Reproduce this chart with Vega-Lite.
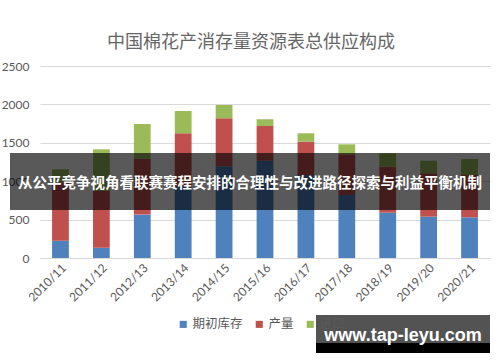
{
  "$schema": "https://vega.github.io/schema/vega-lite/v6.json",
  "width": 450,
  "height": 192,
  "autosize": {"type": "none"},
  "padding": {"left": 40, "top": 66, "right": 10, "bottom": 104},
  "background": "white",
  "title": {
    "text": "中国棉花产消存量资源表总供应构成",
    "font": "Noto Sans CJK SC",
    "fontSize": 18,
    "fontWeight": "normal",
    "color": "#666666",
    "anchor": "middle",
    "frame": "group",
    "offset": 8,
    "dx": -14
  },
  "config": {
    "view": {"stroke": null},
    "font": "Lato"
  },
  "layer": [
    {
      "data": {
        "values": [
          {"year": "2010/11", "type": "期初库存", "value": 225},
          {"year": "2010/11", "type": "产量", "value": 755},
          {"year": "2010/11", "type": "进口", "value": 175},
          {"year": "2011/12", "type": "期初库存", "value": 134},
          {"year": "2011/12", "type": "产量", "value": 740},
          {"year": "2011/12", "type": "进口", "value": 541},
          {"year": "2012/13", "type": "期初库存", "value": 565},
          {"year": "2012/13", "type": "产量", "value": 730},
          {"year": "2012/13", "type": "进口", "value": 450},
          {"year": "2013/14", "type": "期初库存", "value": 930},
          {"year": "2013/14", "type": "产量", "value": 694},
          {"year": "2013/14", "type": "进口", "value": 290},
          {"year": "2014/15", "type": "期初库存", "value": 1195},
          {"year": "2014/15", "type": "产量", "value": 624},
          {"year": "2014/15", "type": "进口", "value": 173},
          {"year": "2015/16", "type": "期初库存", "value": 1265},
          {"year": "2015/16", "type": "产量", "value": 454},
          {"year": "2015/16", "type": "进口", "value": 87},
          {"year": "2016/17", "type": "期初库存", "value": 1080},
          {"year": "2016/17", "type": "产量", "value": 435},
          {"year": "2016/17", "type": "进口", "value": 109},
          {"year": "2017/18", "type": "期初库存", "value": 820},
          {"year": "2017/18", "type": "产量", "value": 530},
          {"year": "2017/18", "type": "进口", "value": 130},
          {"year": "2018/19", "type": "期初库存", "value": 590},
          {"year": "2018/19", "type": "产量", "value": 599},
          {"year": "2018/19", "type": "进口", "value": 174},
          {"year": "2019/20", "type": "期初库存", "value": 538},
          {"year": "2019/20", "type": "产量", "value": 565},
          {"year": "2019/20", "type": "进口", "value": 164},
          {"year": "2020/21", "type": "期初库存", "value": 530},
          {"year": "2020/21", "type": "产量", "value": 551},
          {"year": "2020/21", "type": "进口", "value": 208}
        ]
      },
      "transform": [
        {"calculate": "indexof(['期初库存','产量','进口'], datum.type)", "as": "k"}
      ],
      "mark": {"type": "bar", "width": {"band": 0.41}},
      "encoding": {
        "x": {
          "field": "year",
          "type": "nominal",
          "sort": null,
          "scale": {"paddingInner": 0, "paddingOuter": 0},
          "axis": {
            "title": null,
            "labelAngle": -45,
            "labelFont": "Lato",
            "labelFontSize": 12,
            "labelColor": "#595959",
            "ticks": false,
            "labelPadding": 4,
            "domainColor": "#d9d9d9"
          }
        },
        "y": {
          "field": "value",
          "type": "quantitative",
          "stack": "zero",
          "scale": {"domain": [0, 2500], "nice": false},
          "axis": {
            "title": null,
            "values": [0, 500, 1000, 1500, 2000, 2500],
            "format": "d",
            "domain": false,
            "ticks": false,
            "labelPadding": 11,
            "labelFont": "Lato",
            "labelFontSize": 12,
            "labelColor": "#595959",
            "gridColor": "#d9d9d9"
          }
        },
        "color": {
          "field": "type",
          "type": "nominal",
          "scale": {
            "domain": ["期初库存", "产量", "进口"],
            "range": ["#4F81BD", "#C0504D", "#9BBB59"]
          },
          "legend": {
            "title": null,
            "orient": "none",
            "direction": "horizontal",
            "legendX": 137,
            "legendY": 252,
            "symbolType": "square",
            "symbolSize": 50,
            "symbolStrokeWidth": 0,
            "labelFont": "Noto Sans CJK SC",
            "labelFontSize": 12.5,
            "labelColor": "#595959",
            "labelOffset": 3,
            "columnPadding": 10
          }
        },
        "order": {"field": "k", "type": "quantitative"}
      }
    },
    {
      "data": {"values": [{"t": "从公平竞争视角看联赛赛程安排的合理性与改进路径探索与利益平衡机制"}]},
      "mark": {"type": "rect", "color": "black", "opacity": 0.65},
      "encoding": {
        "x": {"value": -30},
        "x2": {"value": 450},
        "y": {"value": 87},
        "y2": {"value": 144}
      }
    },
    {
      "data": {"values": [{"t": "从公平竞争视角看联赛赛程安排的合理性与改进路径探索与利益平衡机制"}]},
      "mark": {
        "type": "text",
        "font": "Noto Sans CJK SC",
        "fontSize": 14.5,
        "fontWeight": "bold",
        "color": "white",
        "align": "center",
        "baseline": "middle"
      },
      "encoding": {
        "text": {"field": "t"},
        "x": {"value": 210},
        "y": {"value": 118}
      }
    },
    {
      "data": {"values": [{"t": "www.tap-leyu.com"}]},
      "mark": {"type": "rect", "color": "#1a1a1a", "opacity": 0.75},
      "encoding": {
        "x": {"value": 276},
        "x2": {"value": 450},
        "y": {"value": 249},
        "y2": {"value": 277}
      }
    },
    {
      "data": {"values": [{"t": "www.tap-leyu.com"}]},
      "mark": {"type": "rect", "color": "black"},
      "encoding": {
        "x": {"value": 276},
        "x2": {"value": 450},
        "y": {"value": 277},
        "y2": {"value": 287}
      }
    },
    {
      "data": {"values": [{"t": "www.tap-leyu.com"}]},
      "mark": {
        "type": "text",
        "font": "Liberation Sans",
        "fontSize": 18,
        "fontWeight": "bold",
        "color": "white",
        "align": "center",
        "baseline": "middle"
      },
      "encoding": {
        "text": {"field": "t"},
        "x": {"value": 363},
        "y": {"value": 270}
      }
    }
  ]
}
